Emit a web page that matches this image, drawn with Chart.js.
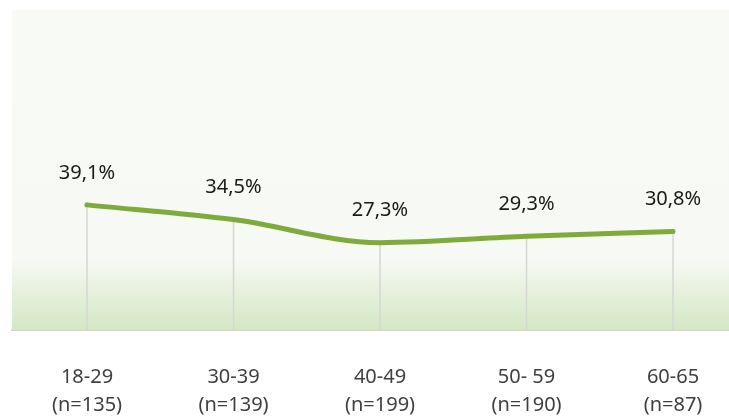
<!DOCTYPE html>
<html>
<head>
<meta charset="utf-8">
<script src="https://cdn.jsdelivr.net/npm/chart.js@4/dist/chart.umd.min.js"></script>
<style>
  html, body { margin: 0; padding: 0; background: #fff; }
</style>
</head>
<body>
<canvas id="grafico" width="729" height="417"></canvas>
<script>
const grupos = ['18-29', '30-39', '40-49', '50- 59', '60-65'];
const muestras = [135, 139, 199, 190, 87];
const porcentajes = [39.1, 34.5, 27.3, 29.3, 30.8];

// fondo degradado + lineas verticales + etiquetas
const decoracion = {
  id: 'decoracion',
  beforeDatasetsDraw(chart) {
    const { ctx, chartArea: a } = chart;
    const g = ctx.createLinearGradient(0, a.top, 0, a.bottom);
    g.addColorStop(0, '#f8faf5');
    g.addColorStop(0.78, '#f7f9f4');
    g.addColorStop(1, '#d4e7c4');
    ctx.save();
    ctx.fillStyle = g;
    ctx.fillRect(a.left, a.top, a.right - a.left, a.bottom - a.top);
    ctx.strokeStyle = '#d6d6d6';
    ctx.lineWidth = 1.5;
    chart.getDatasetMeta(0).data.forEach(p => {
      ctx.beginPath();
      ctx.moveTo(p.x, p.y);
      ctx.lineTo(p.x, a.bottom);
      ctx.stroke();
    });
    ctx.restore();
  },
  afterDatasetsDraw(chart) {
    const { ctx } = chart;
    ctx.save();
    ctx.font = '20px "Noto Sans"';
    ctx.fillStyle = '#1a1a1a';
    ctx.textAlign = 'center';
    ctx.textBaseline = 'middle';
    chart.getDatasetMeta(0).data.forEach((p, i) => {
      ctx.fillText(porcentajes[i].toFixed(1).replace('.', ',') + '%', p.x, p.y - 32);
    });
    ctx.restore();
  }
};

const ctx = document.getElementById('grafico').getContext('2d');
new Chart(ctx, {
  type: 'line',
  data: {
    datasets: [{
      data: porcentajes.map((v, i) => ({ x: i, y: v })),
      borderColor: '#7fab3c',
      borderWidth: 5,
      borderCapStyle: 'round',
      pointRadius: 0,
      cubicInterpolationMode: 'monotone',
      fill: false
    }]
  },
  options: {
    responsive: false,
    animation: false,
    layout: { padding: { left: 12, top: 10, right: 0, bottom: 0 } },
    plugins: { legend: { display: false }, tooltip: { enabled: false } },
    scales: {
      x: {
        type: 'linear',
        min: -0.512,
        max: 4.382,
        afterBuildTicks: s => { s.ticks = grupos.map((_, i) => ({ value: i })); },
        afterFit: s => { s.height = 87; },
        grid: { display: false },
        border: { color: '#d3d3d3', width: 2 },
        ticks: {
          autoSkip: false,
          maxRotation: 0,
          padding: 25,
          color: '#404040',
          font: { family: 'Noto Sans', size: 20, lineHeight: 1.42 },
          callback: v => [grupos[v], '(n=' + muestras[v] + ')']
        }
      },
      y: {
        display: false,
        min: 0,
        max: 100
      }
    }
  },
  plugins: [decoracion]
});
</script>
</body>
</html>
